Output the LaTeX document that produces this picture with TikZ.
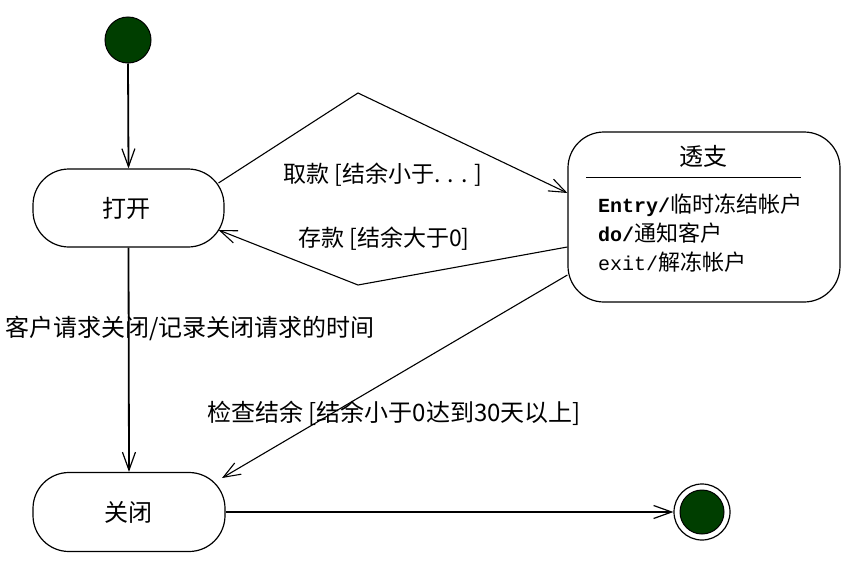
\documentclass[tikz,border=0pt]{standalone}
\usepackage{fontspec}
\setmainfont{Noto Sans CJK SC}
\newfontfamily\monof{Liberation Mono}
\usetikzlibrary{arrows.meta,calc}
\definecolor{dkgreen}{RGB}{0,62,0}
\tikzset{
  statebox/.style={draw=black,line width=1.2pt,rounded corners=36pt,fill=white,inner sep=0pt},
  lbl/.style={font=\fontsize{24}{26}\selectfont,inner sep=0pt,anchor=center},
  boxtxt/.style={font=\fontsize{22}{24}\selectfont,inner sep=0pt,anchor=west},
  trans/.style={line width=1.1pt,-{Straight Barb[length=17pt,width=13pt,line width=1.1pt]}},
  transthick/.style={line width=1.8pt,-{Straight Barb[length=18pt,width=13pt,line width=1.2pt]}},
}
\begin{document}
\begin{tikzpicture}[x=1pt,y=-1pt]
\useasboundingbox (0,0) rectangle (862,565);
% states
\node[circle,fill=dkgreen,draw=black,line width=1pt,minimum size=46pt,inner sep=0pt] (init) at (128,40) {};
\node[statebox,minimum width=191pt,minimum height=78pt] (open) at (128.5,208) {};
\node[lbl] (opentxt) at (126,208) {打开};
\node[statebox,minimum width=192pt,minimum height=79pt] (closed) at (129,512) {};
\node[lbl] (closedtxt) at (128,512) {关闭};
\node[statebox,minimum width=272pt,minimum height=170pt] (over) at (704,217) {};
\node[lbl] (overtitle) at (703,156) {透支};
\draw[line width=1.1pt] ($(over.north west)+(19,46)$) -- ($(over.north east)+(-40,46)$);
\node[boxtxt] (l1) at (598,205) {{\monof\bfseries\fontsize{20}{24}\selectfont Entry/}临时冻结帐户};
\node[boxtxt] (l2) at (598,233) {{\monof\bfseries\fontsize{20}{24}\selectfont do/}通知客户};
\node[boxtxt] (l3) at (598,262) {{\monof\fontsize{20}{24}\selectfont exit/}解冻帐户};
\node[circle,draw=black,line width=1.2pt,minimum size=56pt,inner sep=0pt] (final) at (702,512) {};
\node[circle,fill=dkgreen,draw=black,line width=1pt,minimum size=44pt,inner sep=0pt] (finalin) at (final.center) {};
% bend points
\coordinate (p1) at (358,93);
\coordinate (p2) at (358,285);
% transitions
\draw[transthick] (init.south) -- (open.north);
\draw[trans] ($(open.center)+(90,-25)$) -- (p1) -- ($(over.west)+(0,-24)$);
\draw[trans] ($(over.west)+(0,30)$) -- (p2) -- ($(open.center)+(90,22)$);
\draw[trans] ($(over.west)+(0,58)$) -- ($(closed.center)+(93,-34)$);
\draw[transthick] (open.south) -- (closed.north);
\draw[transthick] (closed.east) -- (final.west);
% labels
\node[lbl,font=\fontsize{23}{26}\selectfont] (t1) at (383,175) {取款 [结余小于. . . ]};
\node[lbl,font=\fontsize{23}{26}\selectfont] (t2) at (384,239) {存款 [结余大于0]};
\node[lbl] (t3) at (190,328) {客户请求关闭/记录关闭请求的时间};
\node[lbl] (t4) at (394,413) {检查结余 [结余小于0达到30天以上]};
\end{tikzpicture}
\end{document}
